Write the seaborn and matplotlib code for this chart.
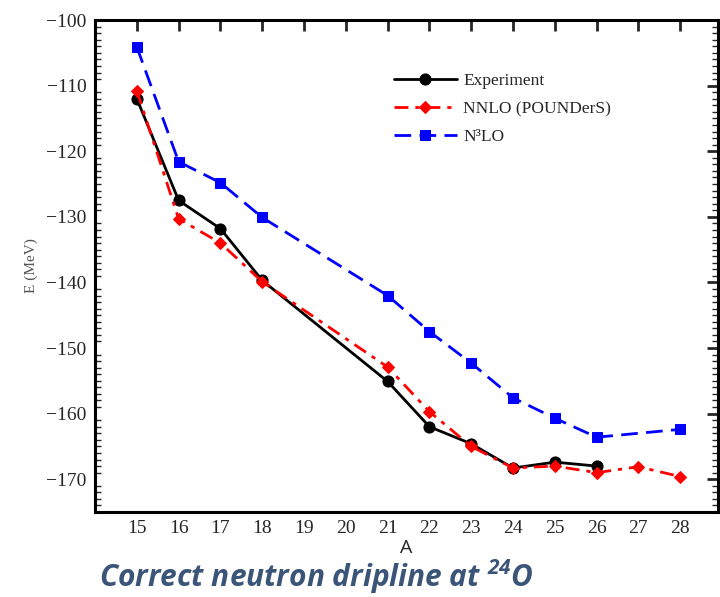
import matplotlib
matplotlib.use("Agg")
import matplotlib.pyplot as plt
from matplotlib.ticker import MultipleLocator
import seaborn as sns


# mass number A and energies (MeV)
A_exp = [15, 16, 17, 18, 21, 22, 23, 24, 25, 26]
E_exp = [-112.0, -127.5, -131.8, -139.7, -155.1, -162.0, -164.6, -168.3, -167.4, -168.0]

A_nnlo = [15, 16, 17, 18, 21, 22, 23, 24, 25, 26, 27, 28]
E_nnlo = [-110.8, -130.3, -134.0, -139.9, -152.9, -159.7, -165.0, -168.3, -168.0, -169.0, -168.1, -169.6]

A_n3lo = [15, 16, 17, 18, 21, 22, 23, 24, 25, 26, 28]
E_n3lo = [-104.1, -121.6, -124.8, -130.1, -142.0, -147.5, -152.3, -157.6, -160.7, -163.6, -162.4]

x_ticks = list(range(15, 29))
y_ticks = list(range(-170, -99, 10))


sns.set_style("white")
plt.rcParams['font.family'] = ['Liberation Serif', 'DejaVu Serif']
plt.rcParams['mathtext.fontset'] = 'custom'
plt.rcParams['mathtext.rm'] = 'Open Sans:italic:bold'
plt.rcParams['mathtext.it'] = 'Open Sans:italic:bold'
plt.rcParams['mathtext.bf'] = 'Open Sans:italic:bold'

fig = plt.figure(figsize=(7.2, 5.97), dpi=100)
ax = fig.add_axes([0.132, 0.1424, 0.865, 0.824])

sns.lineplot(x=A_exp, y=E_exp, ax=ax, color='black', lw=2, marker='o', ms=8,
             markeredgecolor='black', label='Experiment')
sns.lineplot(x=A_nnlo, y=E_nnlo, ax=ax, color='red', lw=2, marker='D', ms=6.5,
             markeredgecolor='red', linestyle=(0, (5, 2.5, 1.5, 2.5)),
             label='NNLO (POUNDerS)')
sns.lineplot(x=A_n3lo, y=E_n3lo, ax=ax, color='blue', lw=2, marker='s', ms=7,
             markeredgecolor='blue', linestyle=(0, (6, 3)), label='N³LO')

ax.set_xlim(14, 28.9)
ax.set_ylim(-175, -100)
ax.set_xticks(x_ticks)
ax.set_yticks(y_ticks)
ax.yaxis.set_minor_locator(MultipleLocator(1))
ax.set_yticklabels([f"\u2212{abs(v)}" for v in y_ticks])
ax.tick_params(which='major', direction='in', length=8, width=2,
               top=True, right=True, labelsize=14, pad=6)
ax.tick_params(which='minor', direction='in', length=4, width=1,
               left=True, right=True)
ax.tick_params(axis='x', which='minor', bottom=False, top=False)
for s in ax.spines.values():
    s.set_linewidth(2.2)
    s.set_color('black')

ax.set_ylabel('E (MeV)', fontsize=11, color='#555555', labelpad=6)
ax.set_xlabel('A', fontsize=14, family='Open Sans', labelpad=1)

ax.legend(loc='upper left', bbox_to_anchor=(0.455, 0.925), frameon=False,
          fontsize=12.5, handlelength=3.6, labelspacing=0.7, handletextpad=0.4)

fig.text(0.439, 0.033, 'Correct neutron dripline at $^{24}$O', ha='center', va='center',
         family='Open Sans', weight='bold', style='italic', fontsize=21.5,
         color='#3b5578')

fig.savefig('out.png', dpi=100)
